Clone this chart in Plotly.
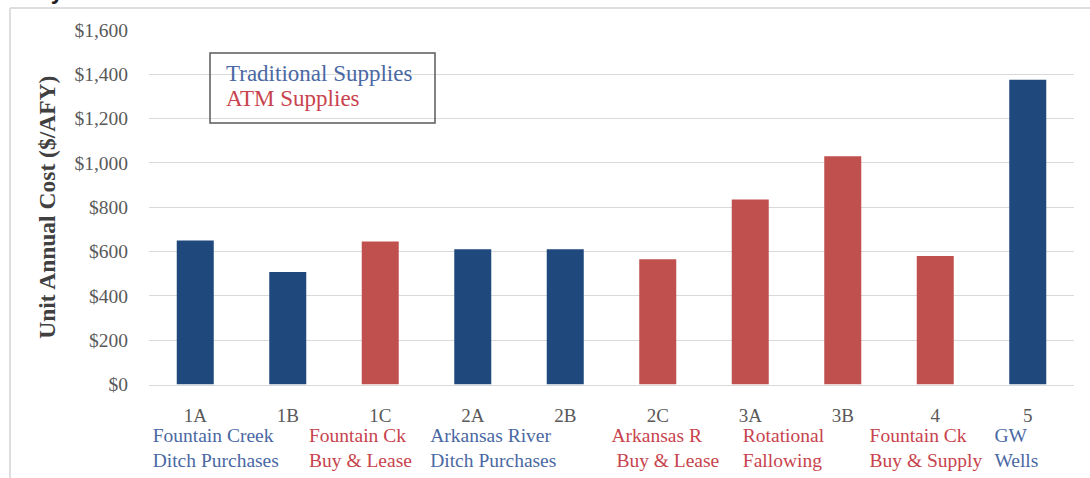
import plotly.graph_objects as go

# Supply options and their unit annual cost ($/AFY)
options = ["1A", "1B", "1C", "2A", "2B", "2C", "3A", "3B", "4", "5"]
unit_cost = [650, 508, 645, 610, 610, 565, 835, 1030, 580, 1375]
supply_type = ["Traditional", "Traditional", "ATM", "Traditional", "Traditional",
               "ATM", "ATM", "ATM", "ATM", "Traditional"]

# Descriptive labels under the option codes: (text, supply type, left edge in category units)
descriptions = [
    ("Fountain Creek<br>Ditch Purchases", "Traditional", -0.46),
    ("Fountain Ck<br>Buy &amp; Lease", "ATM", 1.23),
    ("Arkansas River<br>Ditch Purchases", "Traditional", 2.54),
    ("Arkansas R<br>&nbsp;Buy &amp; Lease", "ATM", 4.50),
    ("Rotational<br>Fallowing", "ATM", 5.92),
    ("Fountain Ck<br>Buy &amp; Supply", "ATM", 7.29),
    ("GW<br>Wells", "Traditional", 8.64),
]
key_labels = {"Traditional": "Traditional Supplies", "ATM": "ATM Supplies"}

y_ticks = [0, 200, 400, 600, 800, 1000, 1200, 1400, 1600]
y_tick_text = ["$0", "$200", "$400", "$600", "$800", "$1,000", "$1,200", "$1,400", "$1,600"]

bar_colors = {"Traditional": "#1f497d", "ATM": "#c0504d"}
text_colors = {"Traditional": "#4a68a3", "ATM": "#c8434d"}

SERIF = "Liberation Serif"
W, H = 1090, 478
M_L, M_R, M_T, M_B = 149, 16, 30, 0
PW, PH = W - M_L - M_R, H - M_T - M_B
BASE = 384.5                      # pixel row of the value axis baseline
Y_MAX = 1600
Y_DOM0 = (H - M_B - BASE) / PH    # bottom of the bar panel, as a fraction of the plot area


def px_x(px):
    return (px - M_L) / PW


def px_y(py):
    return (H - M_B - py) / PH


def px_to_slot(px):
    # horizontal pixel -> category slot units
    return (px - M_L) / PW * len(options) - 0.5


def px_to_cost(py):
    # vertical pixel -> cost units on the value axis
    return (BASE - py) / (BASE - M_T) * Y_MAX


def px_to_label_row(py):
    # vertical pixel -> 0..1 position inside the label strip below the bars
    return (H - M_B - py) / (H - M_B - BASE)


fig = go.Figure(
    go.Bar(
        x=options,
        y=unit_cost,
        marker=dict(color=[bar_colors[t] for t in supply_type], line=dict(width=0)),
        width=0.4,
        showlegend=False,
        hoverinfo="x+y",
    )
)

# Option descriptions in the strip below the axis
for text, kind, x_left in descriptions:
    fig.add_trace(go.Scatter(
        x=[x_left], y=[px_to_label_row(449.5)], xaxis="x3", yaxis="y3",
        mode="text", text=[text], textposition="middle right",
        textfont=dict(family=SERIF, size=19.5, color=text_colors[kind]),
        cliponaxis=False, showlegend=False, hoverinfo="skip",
    ))

# Key text
for kind, py in [("Traditional", 75), ("ATM", 100)]:
    fig.add_trace(go.Scatter(
        x=[px_to_slot(226)], y=[px_to_cost(py)], xaxis="x2", yaxis="y",
        mode="text", text=[key_labels[kind]], textposition="middle right",
        textfont=dict(family=SERIF, size=23, color=text_colors[kind]),
        cliponaxis=False, showlegend=False, hoverinfo="skip",
    ))

# Page heading
annotations = [dict(
    x=px_x(18), xref="paper", xanchor="left",
    y=px_y(-9), yref="paper", yanchor="middle",
    text="<b>City of Fountain</b>", showarrow=False,
    font=dict(family="Liberation Sans", size=23, color="#222222"),
)]

shapes = [
    # key box
    dict(type="rect", xref="paper", yref="paper",
         x0=px_x(210), x1=px_x(435), y0=px_y(123), y1=px_y(53),
         line=dict(color="#5a5a5a", width=1.5), fillcolor="rgba(0,0,0,0)", layer="above"),
    # outer frame
    dict(type="line", xref="paper", yref="paper",
         x0=px_x(10), x1=px_x(10), y0=px_y(480), y1=px_y(8),
         line=dict(color="#dedede", width=2)),
    dict(type="line", xref="paper", yref="paper",
         x0=px_x(10), x1=px_x(1092), y0=px_y(8), y1=px_y(8),
         line=dict(color="#dedede", width=2)),
]

slot_range = [-0.5, len(options) - 0.5]

fig.update_layout(
    width=W, height=H,
    margin=dict(l=M_L, r=M_R, t=M_T, b=M_B, autoexpand=False),
    paper_bgcolor="white", plot_bgcolor="white",
    font=dict(family=SERIF, size=18, color="#595959"),
    annotations=annotations,
    shapes=shapes,
    bargap=0.6,
    xaxis=dict(type="category", anchor="y", automargin=False, showgrid=False,
               showline=True, linecolor="#d9d9d9", linewidth=1, ticks="",
               ticklabelstandoff=14,
               tickfont=dict(family=SERIF, size=19, color="#595959")),
    yaxis=dict(domain=[Y_DOM0, 1], anchor="x", range=[0, Y_MAX],
               tickvals=y_ticks, ticktext=y_tick_text,
               showgrid=True, gridcolor="#d9d9d9", gridwidth=1,
               zeroline=False, showline=False, ticks="", ticklabelstandoff=20,
               tickfont=dict(family=SERIF, size=19.5, color="#595959"),
               title=dict(text="<b>Unit Annual Cost ($/AFY)</b>", standoff=12,
                          font=dict(family=SERIF, size=23.5, color="#404040"))),
    xaxis2=dict(overlaying="x", anchor="y", range=slot_range, visible=False,
                automargin=False, fixedrange=True),
    xaxis3=dict(anchor="y3", range=slot_range, visible=False, automargin=False,
                fixedrange=True),
    yaxis3=dict(domain=[0, Y_DOM0], anchor="x3", range=[0, 1], visible=False,
                automargin=False, fixedrange=True),
)

fig.write_html("out.html")
